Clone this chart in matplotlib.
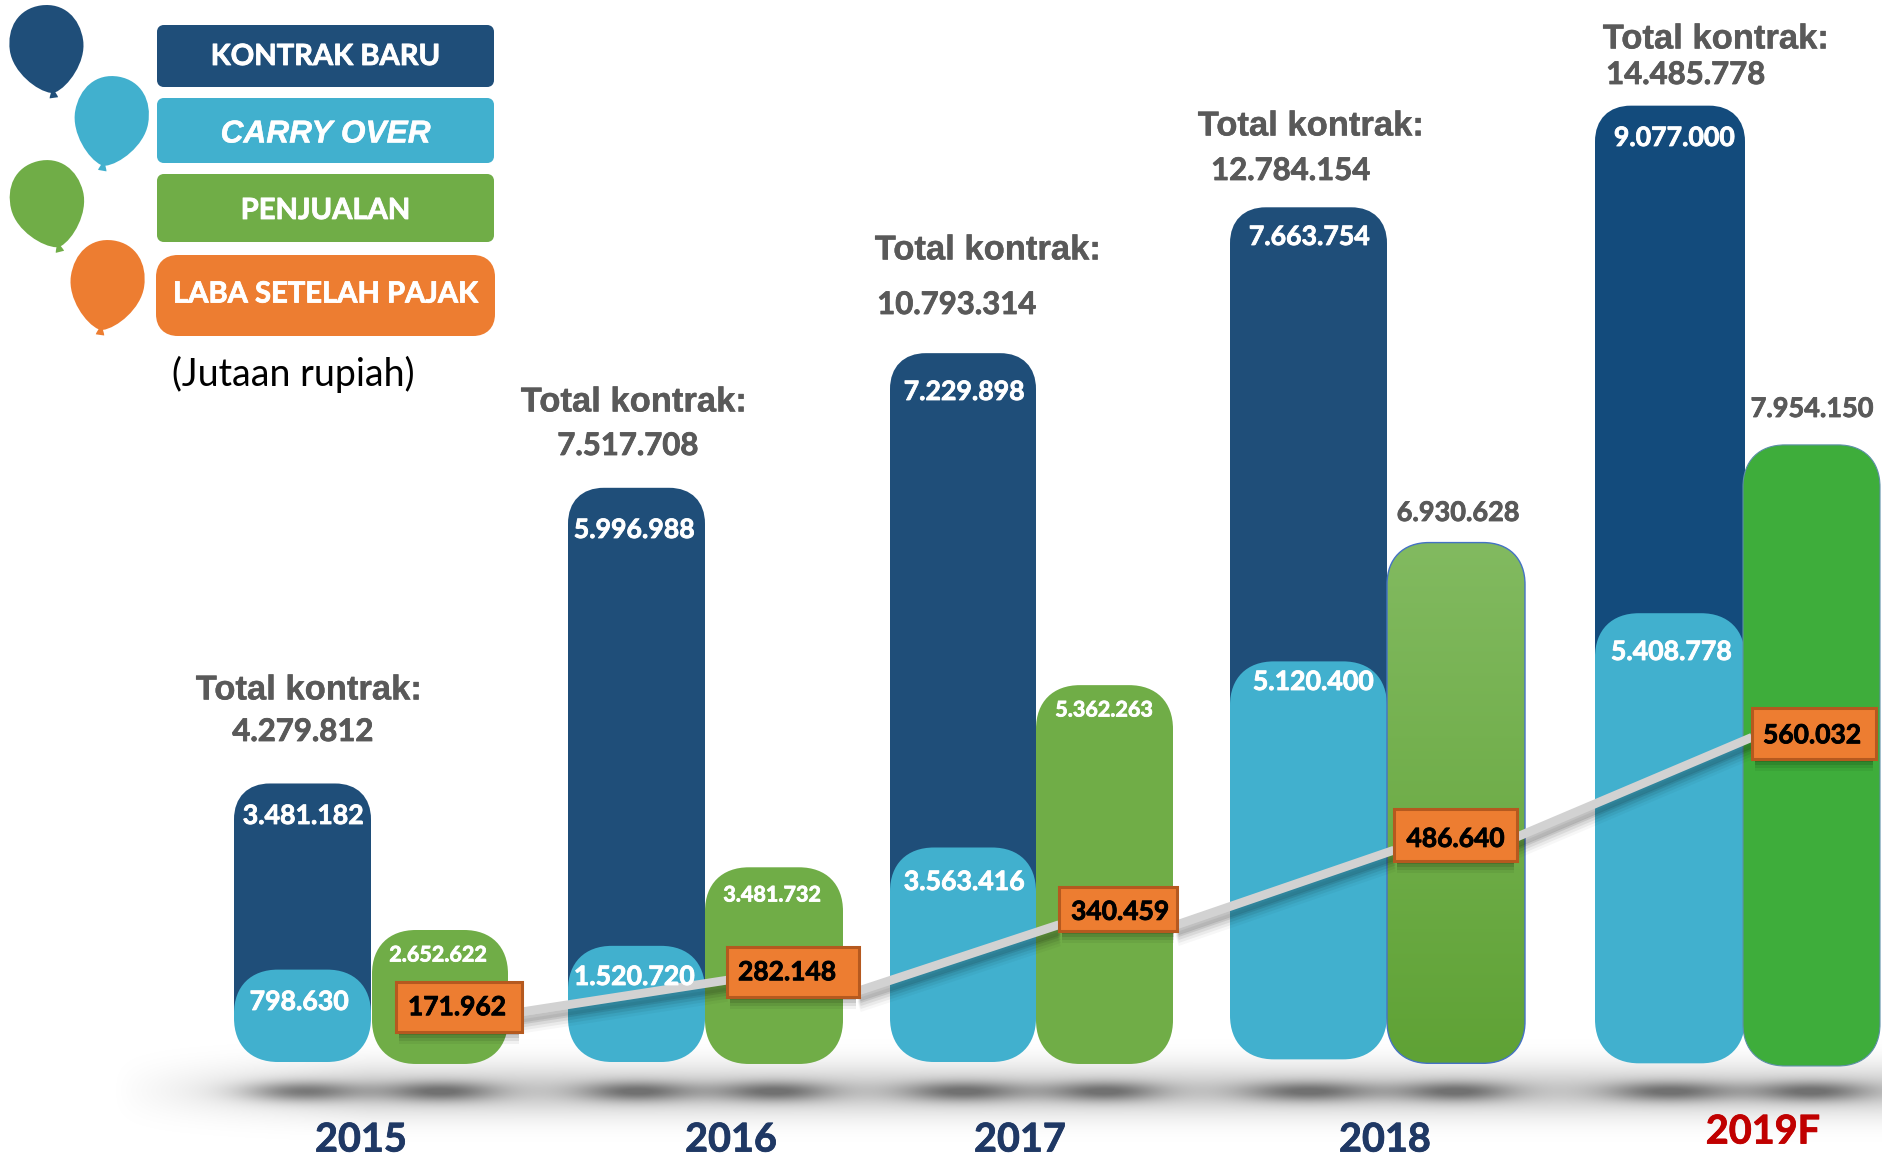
import numpy as np
import matplotlib
matplotlib.use("Agg")
import matplotlib.pyplot as plt
import matplotlib.patheffects as pe
from matplotlib.path import Path
from matplotlib.patches import PathPatch, Rectangle
from matplotlib.colors import to_rgb
from matplotlib.transforms import Affine2D

# ---------- data ----------
years = ["2015", "2016", "2017", "2018", "2019F"]
total_kontrak = ["4.279.812", "7.517.708", "10.793.314", "12.784.154", "14.485.778"]
kontrak_baru = ["3.481.182", "5.996.988", "7.229.898", "7.663.754", "9.077.000"]
carry_over = ["798.630", "1.520.720", "3.563.416", "5.120.400", "5.408.778"]
penjualan = ["2.652.622", "3.481.732", "5.362.263", "6.930.628", "7.954.150"]
laba = ["171.962", "282.148", "340.459", "486.640", "560.032"]
# bar heights as drawn in the picture (juta-juta, not strictly proportional in the source)
kontrak_bar = [4.22, 8.70, 10.74, 12.95, 14.49]
carry_bar = [1.40, 1.76, 3.25, 6.07, 6.80]
sales_bar = [2.00, 2.95, 5.71, 7.87, 9.35]
sales_foot = [-0.03, -0.03, -0.03, -0.02, -0.06]
carry_foot = [0.0, 0.0, 0.0, 0.04, -0.02]
laba_mark = [0.83, 1.36, 2.32, 3.44, 4.98]
laba_line_out = [0.76, 1.08, 2.08, 3.41]
laba_line_in = [1.24, 2.08, 3.21, 4.92]

# ---------- layout (pixels) ----------
W, H = 1883, 1156
Y0, PX = 1062, 66.0
left_bar = [(234, 371), (568, 705), (890, 1036), (1230, 1387), (1595, 1745)]
right_bar = [(372, 508), (705, 843), (1036, 1173), (1387, 1525), (1743, 1880)]
laba_box = [(396, 522, 50), (727, 859, 50), (1059, 1177, 44), (1394, 1517, 52), (1752, 1876, 51)]
laba_text_dx = [-2, -6, 2, 0, -2]
laba_text_dy = [0, 0, 3, 4, 2]
title_xy = [(309, 690), (634, 402), (988, 250), (1311, 126), (1716, 39)]
total_xy = [(303, 732), (628, 446), (957, 305), (1291, 171), (1686, 75)]
kontrak_xy = [(303, 816), (634, 530), (964, 392), (1309, 237), (1674, 138)]
carry_xy = [(299, 1002), (634, 977), (964, 882), (1313, 682), (1671, 652)]
sales_xy = [(438, 955), (772, 895), (1104, 710), (1458, 513), (1812, 409)]
year_xy = [(361, 1140), (731, 1140), (1020, 1140), (1385, 1140), (1763, 1132)]

DARK, TEAL, GREEN, ORANGE = "#1F4E79", "#41B0CE", "#70AD47", "#ED7D31"
GREY = "#595959"
FONT = "Lato"

fig = plt.figure(figsize=(W / 100, H / 100), dpi=100, facecolor="white")
ax = fig.add_axes([0, 0, 1, 1], zorder=1)
ax.set_xlim(0, W)
ax.set_ylim((Y0 - H) / PX, Y0 / PX)
ax.axis("off")
ov = fig.add_axes([0, 0, 1, 1], zorder=2)
ov.set_xlim(0, W)
ov.set_ylim(H, 0)
ov.axis("off")
ov.patch.set_alpha(0)


def heavy(t, color, w=0.6):
    t.set_path_effects([pe.withStroke(linewidth=w, foreground=color)])
    return t


def rounded(x0, x1, y0, y1, r, ry=None):
    """Rounded rectangle path with soft (squircle-like) corners."""
    ry = r if ry is None else ry
    k = 0.62
    v = [(x0 + r, y0), (x1 - r, y0),
         (x1 - r * (1 - k), y0), (x1, y0 + ry * (1 - k)), (x1, y0 + ry),
         (x1, y1 - ry),
         (x1, y1 - ry * (1 - k)), (x1 - r * (1 - k), y1), (x1 - r, y1),
         (x0 + r, y1),
         (x0 + r * (1 - k), y1), (x0, y1 - ry * (1 - k)), (x0, y1 - ry),
         (x0, y0 + ry),
         (x0, y0 + ry * (1 - k)), (x0 + r * (1 - k), y0), (x0 + r, y0), (x0 + r, y0)]
    c = [Path.MOVETO, Path.LINETO, Path.CURVE4, Path.CURVE4, Path.CURVE4, Path.LINETO,
         Path.CURVE4, Path.CURVE4, Path.CURVE4, Path.LINETO, Path.CURVE4, Path.CURVE4,
         Path.CURVE4, Path.LINETO, Path.CURVE4, Path.CURVE4, Path.CURVE4, Path.CLOSEPOLY]
    return Path(v, c)


def bar(x, foot, top, color, r=40, edge="none", lw=0, z=2):
    rr = min(r, (top - foot) * PX / 2)
    p = PathPatch(rounded(x[0], x[1], foot, top, r, rr / PX), facecolor=color,
                  edgecolor=edge, linewidth=lw, zorder=z)
    ax.add_patch(p)
    return p


# ---------- ground shadow ----------
gx = np.arange(0, W, 2.0)
gy = np.arange(1030, H, 1.0)
XX, YY = np.meshgrid(gx, gy)
fade = np.clip((XX - 110) / 260, 0, 1)
haze = 0.20 * fade * np.exp(-((YY - 1090) / 26) ** 2)
core = np.zeros_like(XX)
for (a, b) in left_bar + right_bar:
    core += 0.38 * np.exp(-((XX - (a + b) / 2) / ((b - a) * 0.42)) ** 2 - ((YY - 1091) / 10) ** 2)
alpha = np.clip(haze + core, 0, 0.56)
rgba = np.zeros(XX.shape + (4,))
rgba[..., 3] = alpha
ax.imshow(rgba, extent=(0, W, (Y0 - H) / PX, (Y0 - 1030) / PX), origin="upper",
          aspect="auto", zorder=0, interpolation="bilinear")

# ---------- bars ----------
for i in range(5):
    dark = DARK if i < 4 else "#134B7C"
    bar(left_bar[i], carry_bar[i] / 2, kontrak_bar[i], dark, r=36, z=2)
    ax.add_patch(Rectangle((left_bar[i][0], carry_bar[i] / 2), left_bar[i][1] - left_bar[i][0],
                           carry_bar[i] / 2, facecolor=dark, edgecolor="none", zorder=2))
    bar(left_bar[i], carry_foot[i], carry_bar[i], TEAL, r=44, z=3)

for i in range(5):
    if i == 3:
        p = bar(right_bar[i], sales_foot[i], sales_bar[i], "none", r=42, z=4)
        top, bot = np.array(to_rgb("#82BA60")), np.array(to_rgb("#5FA235"))
        t = np.linspace(0, 1, 256)[:, None]
        img = (top * (1 - t) + bot * t)[:, None, :]
        im = ax.imshow(img, extent=(right_bar[i][0], right_bar[i][1], sales_foot[i], sales_bar[i]),
                       aspect="auto", zorder=4, origin="upper")
        im.set_clip_path(p)
        bar(right_bar[i], sales_foot[i], sales_bar[i], "none", r=42, edge="#4472C4", lw=1.0, z=4.1)
    elif i == 4:
        bar(right_bar[i], sales_foot[i], sales_bar[i], "#3EAD3B", r=42, edge="#5C8FA8", lw=0.8, z=4)
    else:
        bar(right_bar[i], sales_foot[i], sales_bar[i], GREEN, r=44, z=4)
ax.set_xlim(0, W)
ax.set_ylim((Y0 - H) / PX, Y0 / PX)

# ---------- profit line ----------
for i in range(4):
    xs = [laba_box[i][1], laba_box[i + 1][0]]
    ys = np.array([laba_line_out[i], laba_line_in[i]])
    for off, lw, al in [(16, 8, .03), (13, 8, .05), (10, 8, .07), (7, 8, .09), (5, 8, .10)]:
        ax.plot(xs, ys - off / PX, color="black", lw=lw, alpha=al, zorder=5,
                solid_capstyle="butt")
    ax.plot(xs, ys, color="#D2D2D2", lw=6.3, zorder=6, solid_capstyle="butt")

for i in range(5):
    x0, x1, h = laba_box[i]
    yc = laba_mark[i]
    for off, al in [(12, .05), (9, .08), (6, .10), (3, .12)]:
        ax.add_patch(Rectangle((x0 + 3, yc - h / 2 / PX - off / PX), x1 - x0 - 6, h / PX,
                               facecolor="black", alpha=al, edgecolor="none", zorder=6.5))
    ax.add_patch(Rectangle((x0, yc - h / 2 / PX), x1 - x0, h / PX, facecolor=ORANGE,
                           edgecolor="#B5591F", linewidth=2.2, zorder=7))
    heavy(ax.text((x0 + x1) / 2 + laba_text_dx[i], yc - laba_text_dy[i] / PX, laba[i], ha="center",
                  va="center", fontsize=19, fontweight="bold", family=FONT, color="black", zorder=8),
          "black")

# ---------- labels ----------
for i in range(5):
    heavy(ov.text(*title_xy[i], "Total kontrak:", ha="center", va="center", fontsize=24.9,
                  fontweight="bold", family="Liberation Sans", color=GREY), GREY, 0.3)
    heavy(ov.text(*total_xy[i], total_kontrak[i], ha="center", va="center", fontsize=22.4,
                  fontweight="bold", family=FONT, color=GREY), GREY)
    heavy(ov.text(*kontrak_xy[i], kontrak_baru[i], ha="center", va="center", fontsize=19.2,
                  fontweight="bold", family=FONT, color="white"), "white")
    heavy(ov.text(*carry_xy[i], carry_over[i], ha="center", va="center", fontsize=19.2,
                  fontweight="bold", family=FONT, color="white"), "white")
    small = i < 3
    col = "white" if small else GREY
    heavy(ov.text(*sales_xy[i], penjualan[i], ha="center", va="center",
                  fontsize=15.5 if small else 19.5, fontweight="bold", family=FONT, color=col), col)
    col = "#C00000" if i == 4 else "#1F3864"
    heavy(ov.text(*year_xy[i], years[i], ha="center", va="center", fontsize=28.5, fontweight="bold",
                  family=FONT, color=col), col)

# ---------- legend ----------
legend_names = ["KONTRAK BARU", "CARRY OVER", "PENJUALAN", "LABA SETELAH PAJAK"]
legend_cols = [DARK, TEAL, GREEN, ORANGE]
legend_box = [(157, 494, 25, 87, 7), (157, 494, 98, 163, 7), (157, 494, 174, 242, 7), (156, 495, 255, 336, 22)]
legend_text_dy = [1, 4, 3, -1]
balloon_geo = [(47, 49, 37, 44, -8), (111, 121, 37, 45, 10), (48, 204, 37, 44, -14), (107, 285, 37, 45, 8)]


def balloon(cx, cy, rx, ry, tilt, color):
    v = [(0, -1), (0.62, -1), (1, -0.6), (1, -0.08),
         (1, 0.42), (0.42, 0.92), (0.06, 1.0),
         (0.06, 1.0), (0.13, 1.12), (0.11, 1.12),
         (0.11, 1.12), (-0.11, 1.12), (-0.11, 1.12),
         (-0.13, 1.12), (-0.06, 1.0), (-0.06, 1.0),
         (-0.42, 0.92), (-1, 0.42), (-1, -0.08),
         (-1, -0.6), (-0.62, -1), (0, -1), (0, -1)]
    c = [Path.MOVETO] + [Path.CURVE4] * 21 + [Path.CLOSEPOLY]
    tr = Affine2D().scale(rx, ry).rotate_deg(tilt).translate(cx, cy)
    ov.add_patch(PathPatch(Path(tr.transform(np.array(v, float)), c), facecolor=color, edgecolor="none"))


for g, col in zip(balloon_geo, legend_cols):
    balloon(*g, col)
for name, col, b, dy in zip(legend_names, legend_cols, legend_box, legend_text_dy):
    ov.add_patch(PathPatch(rounded(b[0], b[1], b[2], b[3], b[4]), facecolor=col, edgecolor="none"))
    carry = name == "CARRY OVER"
    t = ov.text((b[0] + b[1]) / 2, (b[2] + b[3]) / 2 + dy, name, ha="center", va="center",
                color="white", fontweight="bold", fontsize=22.8 if carry else 21,
                family="Liberation Sans" if carry else FONT, style="italic" if carry else "normal")
    heavy(t, "white", 0.3 if carry else 0.6)
ov.text(293, 374, "(Jutaan rupiah)", ha="center", va="center", fontsize=27, family=FONT, color="black")

fig.savefig("out.png", dpi=100, facecolor="white")
